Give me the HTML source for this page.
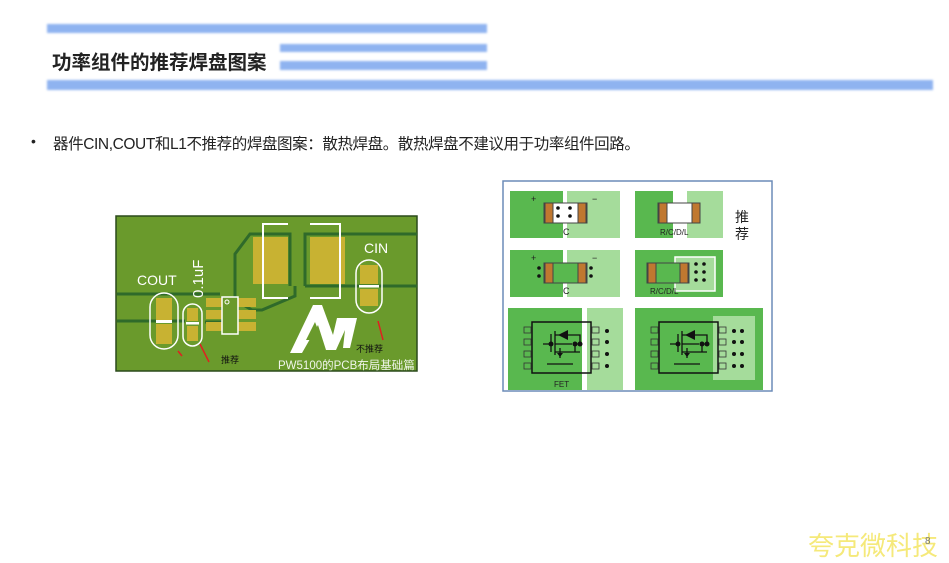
<!DOCTYPE html>
<html><head><meta charset="utf-8"><style>
body{margin:0;width:949px;height:560px;background:#fff;position:relative;overflow:hidden;font-family:"Liberation Sans","Noto Sans CJK SC",sans-serif}
.bar{position:absolute;background:#8fb3f0;filter:blur(1px)}
.t{position:absolute;white-space:nowrap}
</style></head><body>
<div class="bar" style="left:47px;top:24px;width:440px;height:9px"></div>
<div class="bar" style="left:280px;top:44px;width:207px;height:8px"></div>
<div class="bar" style="left:280px;top:61px;width:207px;height:9px"></div>
<div class="bar" style="left:47px;top:80px;width:886px;height:10px"></div>
<div class="t" style="left:52px;top:46px;font-size:19.5px;font-weight:bold;color:#222">功率组件的推荐焊盘图案</div>
<div class="t" style="left:31px;top:133px;font-size:14px;color:#222">•</div>
<div class="t" style="left:53px;top:132px;font-size:15.5px;color:#222;letter-spacing:-0.4px">器件CIN,COUT和L1不推荐的焊盘图案：散热焊盘。散热焊盘不建议用于功率组件回路。</div>
<div class="t" style="left:808px;top:526px;font-size:26px;color:#f5e97a">夸克微科技</div>
<div class="t" style="left:925px;top:536px;font-size:10px;color:#777">8</div>

<svg width="949" height="560" style="position:absolute;left:0;top:0" font-family="Liberation Sans, Noto Sans CJK SC, sans-serif">
<rect x="116" y="216" width="301" height="155" fill="#6a9a2c" stroke="#2b4a1c" stroke-width="1.5"/>
<g stroke="#2f6a2a" stroke-width="3" fill="none">
<polyline points="117,294 220,294"/>
<polyline points="117,321 185,321"/>
<polyline points="222,300 235,300 235,254 250,234 290,234 290,286"/>
<polyline points="235,300 252,310 262,310 295,296 295,286"/>
<polyline points="305,286 305,234 417,234"/>
<polyline points="305,286 417,286"/>
<polyline points="205,322 222,322"/>
</g>
<rect x="253" y="237" width="35" height="47" fill="#c8b232"/>
<rect x="310" y="237" width="35" height="47" fill="#c8b232"/>
<polyline points="288,224 263,224 263,298 288,298" fill="none" stroke="#fff" stroke-width="2"/>
<polyline points="310,224 340,224 340,298 310,298" fill="none" stroke="#fff" stroke-width="2"/>
<rect x="150" y="293" width="28" height="56" rx="14" fill="none" stroke="#fff" stroke-width="1.5"/>
<rect x="156" y="298" width="16" height="22" fill="#c8b232"/><rect x="156" y="324" width="16" height="20" fill="#c8b232"/>
<rect x="156" y="320" width="16" height="3" fill="#fff"/>
<rect x="183" y="304" width="19" height="42" rx="9.5" fill="none" stroke="#fff" stroke-width="1.5"/>
<rect x="187" y="308" width="11" height="13" fill="#c8b232"/><rect x="187" y="326" width="11" height="15" fill="#c8b232"/>
<rect x="186" y="322" width="13" height="2.5" fill="#fff"/>
<text x="137" y="285" font-size="14" fill="#fff">COUT</text>
<text transform="translate(203,298) rotate(-90)" font-size="15" fill="#fff">0.1uF</text>
<rect x="206" y="298" width="50" height="9" fill="#c8b232"/><rect x="206" y="310" width="50" height="9" fill="#c8b232"/><rect x="206" y="322" width="50" height="9" fill="#c8b232"/>
<rect x="222" y="297" width="16" height="37" fill="#6a9a2c" stroke="#fff" stroke-width="1.5"/>
<circle cx="227" cy="302" r="2" fill="none" stroke="#fff"/>
<text x="364" y="253" font-size="14" fill="#fff">CIN</text>
<rect x="356" y="260" width="26" height="53" rx="13" fill="none" stroke="#fff" stroke-width="1.5"/>
<rect x="360" y="265" width="18" height="19" fill="#c8b232"/><rect x="360" y="289" width="18" height="17" fill="#c8b232"/>
<rect x="359" y="285" width="20" height="2.5" fill="#fff"/>
<polygon points="290,353 313,305 322,305 333,335 337,318 357,318 350,348 343,348 345,330 336,350 326,350 318,325 302,353" fill="#fff"/>
<polygon points="306,340 315,322 322,340" fill="#6a9a2c"/>
<text x="278" y="369" font-size="11.5" fill="#fff" opacity="0.9">PW5100的PCB布局基础篇</text>
<text x="221" y="363" font-size="9" fill="#111">推荐</text>
<text x="356" y="352" font-size="9" fill="#111">不推荐</text>
<g stroke="#e02020" stroke-width="1.5"><line x1="200" y1="344" x2="209" y2="362"/><line x1="378" y1="321" x2="383" y2="340"/><line x1="178" y1="351" x2="182" y2="356"/></g>

<rect x="503" y="181" width="269" height="210" fill="#fff" stroke="#6c8cb8" stroke-width="1.5"/>
<g fill="#59b84f">
<rect x="510" y="191" width="53" height="47"/><rect x="635" y="191" width="38" height="47"/>
<rect x="510" y="250" width="53" height="47"/><rect x="635" y="250" width="88" height="47"/>
<rect x="508" y="308" width="74" height="82"/><rect x="635" y="308" width="128" height="82"/>
</g>
<g fill="#a5dc9b">
<rect x="567" y="191" width="53" height="47"/><rect x="687" y="191" width="36" height="47"/>
<rect x="567" y="250" width="53" height="47"/><rect x="675" y="257" width="40" height="34"/>
<rect x="587" y="308" width="36" height="82"/><rect x="713" y="316" width="42" height="64"/>
</g>
<rect x="675" y="257" width="40" height="34" fill="none" stroke="#fff" stroke-width="1.5"/>
<g stroke="#444" stroke-width="1">
<rect x="544" y="203" width="43" height="20" fill="#fff"/><rect x="545" y="203" width="8" height="20" fill="#c07830"/><rect x="578" y="203" width="8" height="20" fill="#c07830"/>
<rect x="658" y="203" width="42" height="20" fill="#fff"/><rect x="659" y="203" width="8" height="20" fill="#c07830"/><rect x="692" y="203" width="8" height="20" fill="#c07830"/>
<rect x="544" y="263" width="43" height="20" fill="#59b84f"/><rect x="545" y="263" width="8" height="20" fill="#c07830"/><rect x="578" y="263" width="8" height="20" fill="#c07830"/>
<rect x="647" y="263" width="42" height="20" fill="#59b84f"/><rect x="648" y="263" width="8" height="20" fill="#c07830"/><rect x="680" y="263" width="8" height="20" fill="#c07830"/>
</g>
<g fill="#111">
<circle cx="558" cy="208" r="1.8"/><circle cx="558" cy="216" r="1.8"/><circle cx="570" cy="208" r="1.8"/><circle cx="570" cy="216" r="1.8"/>
<circle cx="539" cy="268" r="1.8"/><circle cx="539" cy="276" r="1.8"/><circle cx="591" cy="268" r="1.8"/><circle cx="591" cy="276" r="1.8"/>
<circle cx="696" cy="264" r="1.8"/><circle cx="696" cy="272" r="1.8"/><circle cx="696" cy="280" r="1.8"/><circle cx="704" cy="264" r="1.8"/><circle cx="704" cy="272" r="1.8"/><circle cx="704" cy="280" r="1.8"/>
<circle cx="607" cy="331" r="2"/><circle cx="607" cy="342" r="2"/><circle cx="607" cy="354" r="2"/><circle cx="607" cy="366" r="2"/>
<circle cx="734" cy="331" r="2"/><circle cx="734" cy="342" r="2"/><circle cx="734" cy="354" r="2"/><circle cx="734" cy="366" r="2"/>
<circle cx="742" cy="331" r="2"/><circle cx="742" cy="342" r="2"/><circle cx="742" cy="354" r="2"/><circle cx="742" cy="366" r="2"/>
</g>
<g font-size="9" fill="#222">
<text x="531" y="202">+</text><text x="592" y="202">−</text><text x="563" y="235">C</text>
<text x="531" y="261">+</text><text x="592" y="261">−</text><text x="563" y="294">C</text>
<text x="660" y="235" font-size="8">R/C/D/L</text><text x="650" y="294" font-size="8">R/C/D/L</text>
<text x="554" y="387" font-size="8">FET</text>
</g>
<text x="735" y="222" font-size="14" fill="#222">推</text><text x="735" y="239" font-size="14" fill="#222">荐</text>
<g fill="none" stroke="#111" stroke-width="1.5">
<rect x="532" y="322" width="59" height="51"/><rect x="659" y="322" width="59" height="51"/>
</g>
<g fill="none" stroke="#333" stroke-width="0.8">
<rect x="524" y="327" width="7" height="6"/><rect x="524" y="339" width="7" height="6"/><rect x="524" y="351" width="7" height="6"/><rect x="524" y="363" width="7" height="6"/>
<rect x="592" y="327" width="7" height="6"/><rect x="592" y="339" width="7" height="6"/><rect x="592" y="351" width="7" height="6"/><rect x="592" y="363" width="7" height="6"/>
<rect x="651" y="327" width="7" height="6"/><rect x="651" y="339" width="7" height="6"/><rect x="651" y="351" width="7" height="6"/><rect x="651" y="363" width="7" height="6"/>
<rect x="719" y="327" width="7" height="6"/><rect x="719" y="339" width="7" height="6"/><rect x="719" y="351" width="7" height="6"/><rect x="719" y="363" width="7" height="6"/>
</g>
<g stroke="#111" stroke-width="1.3" fill="none">
<path d="M543,344 H551 M551,334 V352 M555,331 V355 M555,335 H580 V344 M555,352 H575 V344 M555,344 H572 M575,352 L580,352 M560,348 V358 M547,364 H573"/>
<path d="M670,344 H678 M678,334 V352 M682,331 V355 M682,335 H707 V344 M682,352 H702 V344 M682,344 H699 M702,352 L707,352 M687,348 V358 M674,364 H700"/>
</g>
<g fill="#111">
<polygon points="558,335 568,330 568,340"/><polygon points="685,335 695,330 695,340"/>
<circle cx="551" cy="344" r="2.5"/><circle cx="575" cy="344" r="2.5"/><circle cx="580" cy="344" r="2.5"/><circle cx="678" cy="344" r="2.5"/><circle cx="702" cy="344" r="2.5"/><circle cx="707" cy="344" r="2.5"/>
<polygon points="557,353 563,353 560,357"/><polygon points="684,353 690,353 687,357"/>
</g>
</svg>
</body></html>
